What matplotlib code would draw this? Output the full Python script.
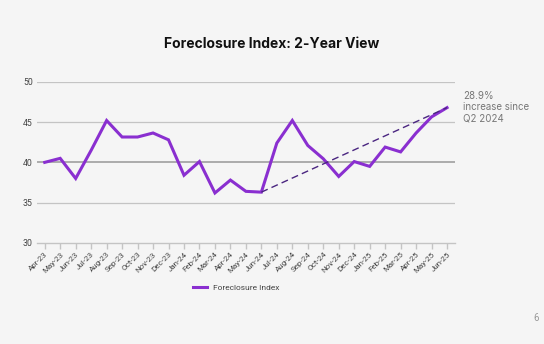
import matplotlib
matplotlib.use('Agg')

import matplotlib.pyplot as plt

# monthly labels, Apr-23 .. Jun-25
months = ["Apr-23", "May-23", "Jun-23", "Jul-23", "Aug-23", "Sep-23", "Oct-23",
          "Nov-23", "Dec-23", "Jan-24", "Feb-24", "Mar-24", "Apr-24", "May-24",
          "Jun-24", "Jul-24", "Aug-24", "Sep-24", "Oct-24", "Nov-24", "Dec-24",
          "Jan-25", "Feb-25", "Mar-25", "Apr-25", "May-25", "Jun-25"]
index_values = [40.0, 40.5, 38.0, 41.5, 45.2, 43.15, 43.15, 43.65, 42.8, 38.4,
                40.1, 36.2, 37.8, 36.4, 36.3, 42.4, 45.2, 42.1, 40.45, 38.25,
                40.1, 39.5, 41.9, 41.3, 43.65, 45.65, 46.8]
trend_start = "Jun-24"
trend_end = "Jun-25"
y_ticks = [30, 35, 40, 45, 50]

BG = "#f5f5f5"
PURPLE = "#8a2fd0"
TREND = "#4a2580"

plt.rcParams['font.family'] = ['Roboto', 'DejaVu Sans']

fig = plt.figure(figsize=(5.44, 3.44), dpi=100, facecolor=BG)
ax = fig.add_axes([0.068, 0.294, 0.768, 0.468], facecolor=BG)

x = list(range(len(months)))
ax.plot(x, index_values, color=PURPLE, lw=2.2, solid_joinstyle='miter',
        label="Foreclosure Index", zorder=3)

# dashed trend line from Q2 2024 to latest value
i0, i1 = months.index(trend_start), months.index(trend_end)
ax.plot([i0, i1], [index_values[i0], index_values[i1]], color=TREND,
        lw=1.0, dashes=(5, 3), zorder=4)

ax.set_xlim(-0.5, len(months) - 0.5)
ax.set_ylim(30, 50)
ax.set_yticks(y_ticks)
for t in y_ticks[1:]:
    if t == 40:
        ax.axhline(t, color="#ababab", lw=1.4, zorder=1)
    else:
        ax.axhline(t, color="#c4c4c4", lw=0.9, zorder=1)

for s in ["top", "right", "left"]:
    ax.spines[s].set_visible(False)
ax.spines["bottom"].set_color("#c4c4c4")
ax.spines["bottom"].set_linewidth(1.0)

ax.set_xticks(x)
ax.set_xticklabels(months, rotation=45, ha="right", rotation_mode="anchor",
                   fontsize=5.8, color="#444444")
ax.tick_params(axis="x", length=4, width=1.0, color="#c4c4c4", pad=2)
ax.tick_params(axis="y", length=0, labelsize=6.3, labelcolor="#444444", pad=3)

fig.text(0.5, 0.872, "Foreclosure Index: 2-Year View", ha="center", va="center",
         fontsize=10, fontweight="bold", color="#111111", family=["Inter", "DejaVu Sans"])

ax.annotate("28.9%\nincrease since\nQ2 2024", xy=(1.0, 0.0), xycoords="axes fraction",
            xytext=(463, 344 - 91), textcoords="figure pixels", ha="left", va="top",
            fontsize=7, color="#777777", linespacing=1.15,
            family=["Inter", "DejaVu Sans"])

leg = fig.legend(handles=[ax.lines[0]], loc="center", bbox_to_anchor=(0.435, 0.163),
                 frameon=False, fontsize=6, handlelength=1.6)
for t in leg.get_texts():
    t.set_color("#444444")

fig.text(0.99, 0.075, "6", ha="right", va="center", fontsize=7, color="#999999")

fig.savefig("out.png", dpi=100, facecolor=BG)
